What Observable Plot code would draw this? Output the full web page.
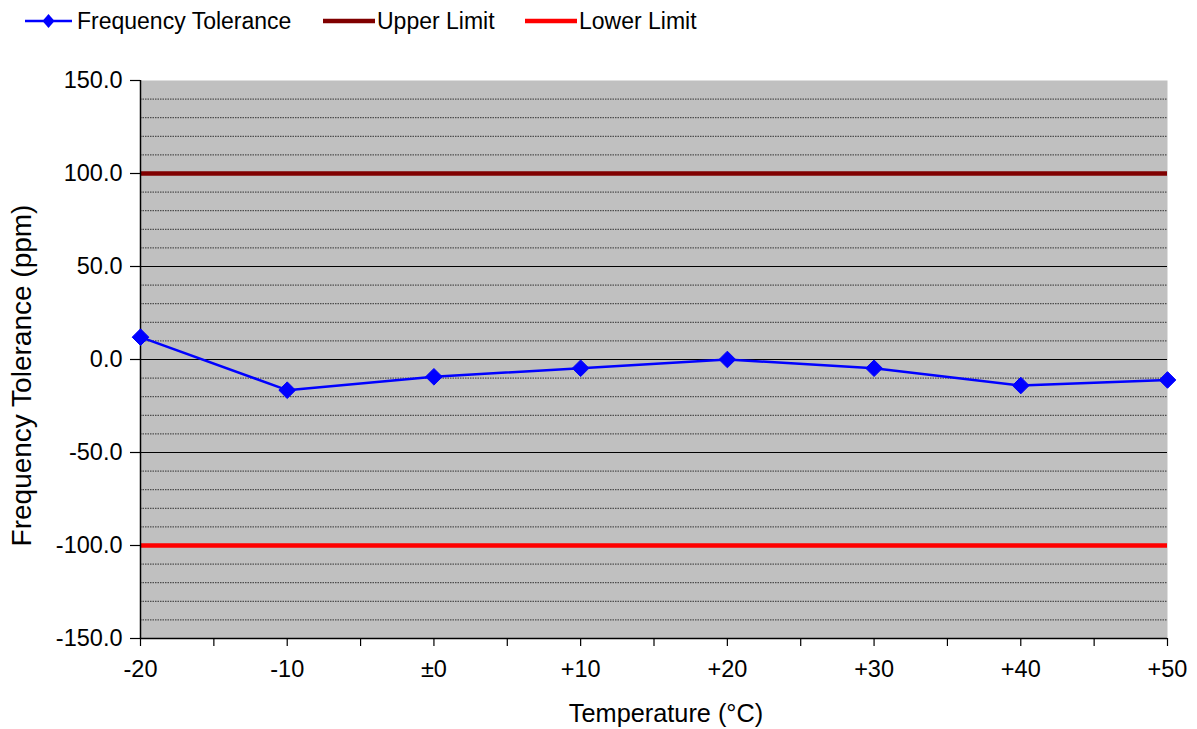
<!DOCTYPE html>
<html>
<head>
<meta charset="utf-8">
<script src="https://cdn.jsdelivr.net/npm/d3@7"></script>
<script src="https://cdn.jsdelivr.net/npm/@observablehq/plot@0.6"></script>
<style>
  html, body { margin: 0; padding: 0; background: #fff; }
  body { font-family: "Liberation Sans", Arial, sans-serif; }
  #legend { position: relative; width: 1197px; height: 45px; }
  #legend .sw { position: absolute; top: 0; }
  #legend .lab { position: absolute; top: 8px; font-size: 23px; line-height: 27px; color: #000; white-space: nowrap; }
</style>
</head>
<body>
<div id="legend"></div>
<div id="chart"></div>
<script>
// ---- data ----
const temperatures = [-20, -10, 0, 10, 20, 30, 40, 50];
const tempLabels = ["-20", "-10", "±0", "+10", "+20", "+30", "+40", "+50"];
const tolerance = [12, -16.5, -9.3, -4.7, 0, -4.7, -14, -11];
const upperLimit = [100];
const lowerLimit = [-100];
const yTicks = [-150, -100, -50, 0, 50, 100, 150];
const yMinorGrid = [-140, -130, -120, -110, -90, -80, -70, -60, -40, -30, -20, -10,
                    10, 20, 30, 40, 60, 70, 80, 90, 110, 120, 130, 140];
const yMajorGrid = [-50, 0, 50];
const xMinorTicks = [-15, -5, 5, 15, 25, 35, 45];
const seriesNames = ["Frequency Tolerance", "Upper Limit", "Lower Limit"];
const seriesColors = ["#0000FF", "#800000", "#FF0000"];

const data = temperatures.map((t, i) => ({t, v: tolerance[i]}));
const labelOf = new Map(temperatures.map((t, i) => [t, tempLabels[i]]));

// ---- legend ----
const legend = document.getElementById("legend");
const swatches = [
  {x0: 25, x1: 72, text: 77, w: 2.5, diamond: true},
  {x0: 323, x1: 375, text: 377, w: 4.5, diamond: false},
  {x0: 525, x1: 577, text: 579, w: 4.5, diamond: false}
];
swatches.forEach((s, i) => {
  const svgNS = "http://www.w3.org/2000/svg";
  const svg = document.createElementNS(svgNS, "svg");
  svg.setAttribute("class", "sw");
  svg.setAttribute("width", 1197);
  svg.setAttribute("height", 45);
  svg.style.left = "0px";
  const line = document.createElementNS(svgNS, "line");
  line.setAttribute("x1", s.x0); line.setAttribute("x2", s.x1);
  line.setAttribute("y1", 21); line.setAttribute("y2", 21);
  line.setAttribute("stroke", seriesColors[i]);
  line.setAttribute("stroke-width", s.w);
  svg.appendChild(line);
  if (s.diamond) {
    const cx = (s.x0 + s.x1) / 2;
    const p = document.createElementNS(svgNS, "path");
    p.setAttribute("d", `M${cx},${21-7}L${cx+6},21L${cx},${21+7}L${cx-6},21Z`);
    p.setAttribute("fill", seriesColors[i]);
    svg.appendChild(p);
  }
  legend.appendChild(svg);
  const lab = document.createElement("div");
  lab.className = "lab";
  lab.style.left = s.text + "px";
  lab.textContent = seriesNames[i];
  legend.appendChild(lab);
});

// ---- chart ----
const chart = Plot.plot({
  width: 1197,
  height: 684,
  marginTop: 35,
  marginLeft: 140,
  marginRight: 30,
  marginBottom: 91,
  style: {fontFamily: "'Liberation Sans', Arial, sans-serif", fontSize: "23.5px", color: "#000", background: "#fff"},
  x: {type: "linear", domain: [-20, 50]},
  y: {domain: [-150, 150]},
  marks: [
    Plot.frame({fill: "#C0C0C0", stroke: null}),
    Plot.ruleY(yMinorGrid, {stroke: "#333", strokeWidth: 1, strokeDasharray: "1.5,1"}),
    Plot.ruleY(yMajorGrid, {stroke: "#000", strokeWidth: 1.2}),
    Plot.ruleY(upperLimit, {stroke: seriesColors[1], strokeWidth: 4.5}),
    Plot.ruleY(lowerLimit, {stroke: seriesColors[2], strokeWidth: 4.5}),
    Plot.ruleX([-20], {stroke: "#000", strokeWidth: 1.5}),
    Plot.ruleY([-150], {stroke: "#000", strokeWidth: 1.5}),
    Plot.axisY(yTicks, {tickSize: 10, tickPadding: 8, tickFormat: d => d.toFixed(1), fontSize: 23.5, label: null, strokeWidth: 1.2}),
    Plot.axisX(temperatures, {tickSize: 8, tickPadding: 14, tickFormat: d => labelOf.get(d), fontSize: 23.5, label: null, strokeWidth: 1.2}),
    Plot.axisX(xMinorTicks, {tickSize: 8, tickFormat: () => "", label: null, strokeWidth: 1.2}),
    Plot.line(data, {x: "t", y: "v", stroke: seriesColors[0], strokeWidth: 2.5}),
    Plot.dot(data, {x: "t", y: "v", symbol: "diamond2", r: 7.5, fill: seriesColors[0], stroke: seriesColors[0], strokeWidth: 1}),
    Plot.text(["Frequency Tolerance (ppm)"], {frameAnchor: "left", textAnchor: "middle", lineAnchor: "middle", dx: -118, dy: 16, rotate: -90, fontSize: 28, fill: "#000"}),
    Plot.text(["Temperature (°C)"], {frameAnchor: "bottom", textAnchor: "middle", lineAnchor: "middle", dx: 12, dy: 75, fontSize: 25.3, fill: "#000"})
  ]
});
document.getElementById("chart").appendChild(chart);
</script>
</body>
</html>
